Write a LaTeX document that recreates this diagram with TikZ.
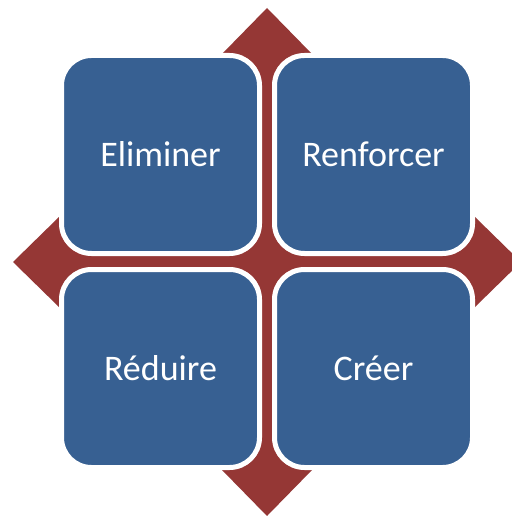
\documentclass[tikz,border=0pt]{standalone}
\usepackage{fontspec}
\setmainfont{Carlito}
\definecolor{boxblue}{HTML}{376092}
\definecolor{arrowred}{HTML}{953735}
\def\frame{(0,0) rectangle (512,516)}
\def\quadarrow{(267,8) -- (312,54) -- (307,54) -- (307,222) -- (475,222) -- (475,217)
  -- (521,262) -- (475,307) -- (475,302) -- (307,302) -- (307,470) -- (312,470)
  -- (267,516) -- (222,470) -- (227,470) -- (227,302) -- (59,302) -- (59,307)
  -- (13,262) -- (59,217) -- (59,222) -- (227,222) -- (227,54) -- (222,54) -- cycle}
\tikzset{box/.style={rectangle, rounded corners=30bp, fill=boxblue, draw=white,
  line width=5bp, minimum size=198bp, inner sep=0pt, text=white,
  font=\fontsize{36bp}{42bp}\selectfont}}

\begin{document}
\begin{tikzpicture}[x=1bp,y=-1bp]
\useasboundingbox \frame;
\fill[white] \frame;
% arrow behind:
\fill[arrowred] \quadarrow;
% boxes:
\node[box] (elim) at (160.5,154.5) {Eliminer};
\node[box] (renf) at (373.5,154.5) {Renforcer};
\node[box] (redu) at (160.5,368.5) {Réduire};
\node[box] (cree) at (373.5,368.5) {Créer};
\end{tikzpicture}
\end{document}
